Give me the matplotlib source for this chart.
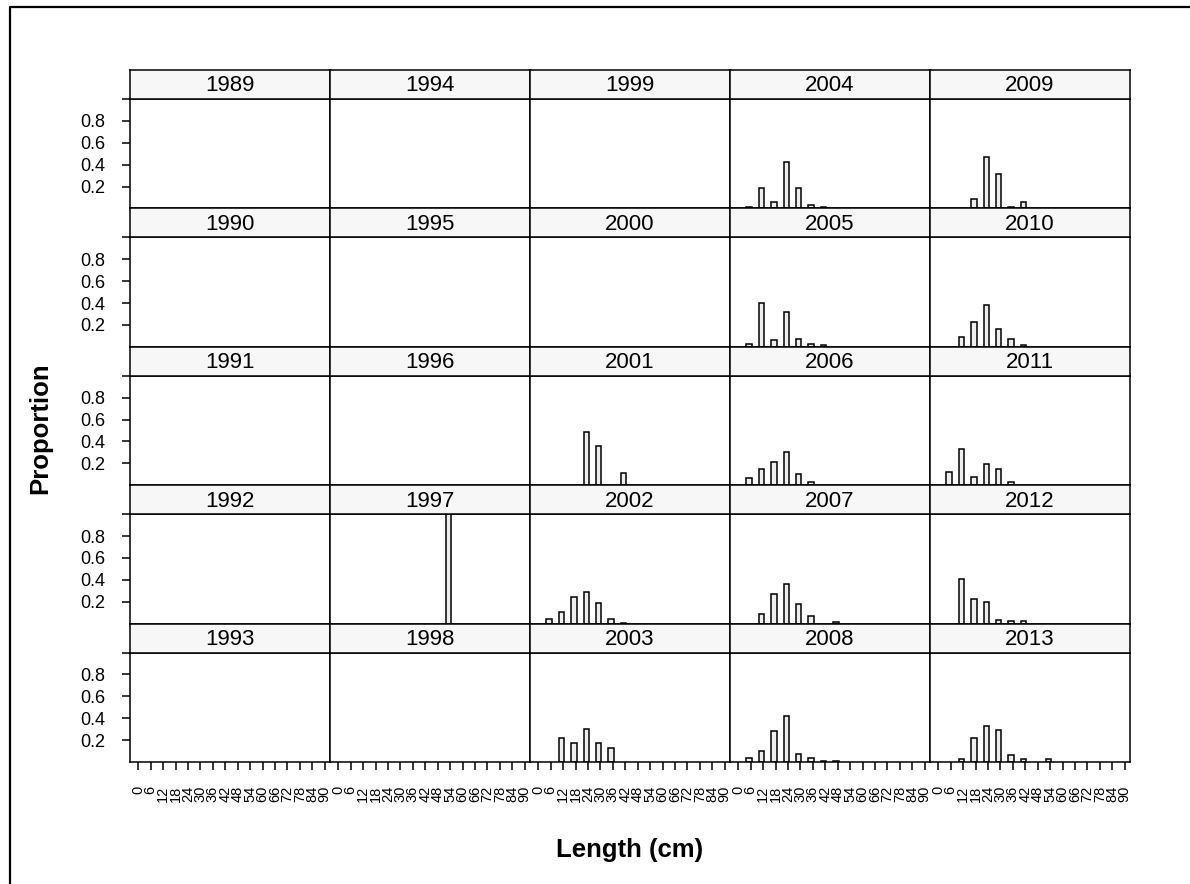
import matplotlib
matplotlib.use("Agg")
import matplotlib.pyplot as plt
from matplotlib.lines import Line2D

plt.rcParams['font.family'] = ['Liberation Sans', 'DejaVu Sans']

# Length-composition data (proportion by 6 cm length bin)
years = list(range(1989, 2014))

len_1997 = [54]
prop_1997 = [1.0]

len_2001 = [24, 30, 42]
prop_2001 = [0.49, 0.36, 0.11]

len_2002 = [6, 12, 18, 24, 30, 36, 42]
prop_2002 = [0.04, 0.11, 0.245, 0.29, 0.185, 0.04, 0.01]

len_2003 = [12, 18, 24, 30, 36]
prop_2003 = [0.215, 0.175, 0.305, 0.175, 0.13]

len_2004 = [6, 12, 18, 24, 30, 36, 42]
prop_2004 = [0.015, 0.19, 0.06, 0.425, 0.19, 0.03, 0.015]

len_2005 = [6, 12, 18, 24, 30, 36, 42]
prop_2005 = [0.03, 0.40, 0.06, 0.32, 0.07, 0.03, 0.015]

len_2006 = [6, 12, 18, 24, 30, 36]
prop_2006 = [0.07, 0.15, 0.21, 0.30, 0.10, 0.03]

len_2007 = [12, 18, 24, 30, 36, 48]
prop_2007 = [0.09, 0.275, 0.365, 0.18, 0.07, 0.015]

len_2008 = [6, 12, 18, 24, 30, 36, 42, 48]
prop_2008 = [0.04, 0.10, 0.28, 0.425, 0.075, 0.04, 0.012, 0.012]

len_2009 = [18, 24, 30, 36, 42]
prop_2009 = [0.09, 0.47, 0.31, 0.015, 0.06]

len_2010 = [12, 18, 24, 30, 36, 42]
prop_2010 = [0.09, 0.225, 0.38, 0.16, 0.075, 0.015]

len_2011 = [6, 12, 18, 24, 30, 36]
prop_2011 = [0.12, 0.335, 0.075, 0.19, 0.15, 0.03]

len_2012 = [12, 18, 24, 30, 36, 42]
prop_2012 = [0.405, 0.225, 0.195, 0.035, 0.02, 0.02]

len_2013 = [12, 18, 24, 30, 36, 42, 54]
prop_2013 = [0.03, 0.215, 0.325, 0.29, 0.06, 0.03, 0.03]

comps = {
    1997: (len_1997, prop_1997),
    2001: (len_2001, prop_2001),
    2002: (len_2002, prop_2002),
    2003: (len_2003, prop_2003),
    2004: (len_2004, prop_2004),
    2005: (len_2005, prop_2005),
    2006: (len_2006, prop_2006),
    2007: (len_2007, prop_2007),
    2008: (len_2008, prop_2008),
    2009: (len_2009, prop_2009),
    2010: (len_2010, prop_2010),
    2011: (len_2011, prop_2011),
    2012: (len_2012, prop_2012),
    2013: (len_2013, prop_2013),
}

x_ticks = list(range(0, 91, 6))
y_ticks = [0.2, 0.4, 0.6, 0.8, 1.0]
y_ticklabels = ['0.2', '0.4', '0.6', '0.8', '']

W, H = 1190, 884
fig = plt.figure(figsize=(W / 100, H / 100), dpi=100)

def fx(px):
    return px / W

def fy(py):
    return 1 - py / H

# outer frame (only left and top edges fall inside the image)
fig.lines.append(Line2D([fx(10), fx(10), 1.0], [0.0, fy(7), fy(7)],
                        transform=fig.transFigure, color='black',
                        linewidth=1.6))

left0, top0 = 130, 70
col_w, row_h, strip_h = 200, 138.4, 29
nrow, ncol = 5, 5

for c in range(ncol):
    for r in range(nrow):
        year = years[c * nrow + r]
        left = left0 + col_w * c
        strip_top = top0 + row_h * r
        bottom = strip_top + row_h
        ph = row_h - strip_h

        ax = fig.add_axes([fx(left), fy(bottom), col_w / W, ph / H])
        if year in comps:
            lens, props = comps[year]
            ax.bar([l - 0.8 for l in lens], props, width=2.6,
                   color='#eeeeee', edgecolor='black', linewidth=1.1)
        ax.set_xlim(-4, 92.6)
        ax.set_ylim(0, 1.0)
        for s in ax.spines.values():
            s.set_linewidth(1.1)

        if c == 0:
            ax.set_yticks(y_ticks)
            ax.set_yticklabels(y_ticklabels, fontsize=13)
            ax.tick_params(axis='y', length=6, width=1.1, pad=12)
        else:
            ax.set_yticks([])
        if r == nrow - 1:
            ax.set_xticks(x_ticks)
            ax.set_xticklabels([str(t) for t in x_ticks], rotation=90,
                               fontsize=10.5)
            ax.tick_params(axis='x', length=6, width=1.1, pad=11)
        else:
            ax.set_xticks([])

        sax = fig.add_axes([fx(left), fy(strip_top + strip_h), col_w / W,
                            strip_h / H])
        sax.set_facecolor('#f7f7f7')
        sax.set_xticks([])
        sax.set_yticks([])
        for s in sax.spines.values():
            s.set_linewidth(1.1)
        sax.text(0.5, 0.45, str(year), ha='center', va='center',
                 fontsize=16, transform=sax.transAxes)

fig.text(fx(40), fy(428), 'Proportion', rotation=90, ha='center',
         va='center', fontsize=18.5, fontweight='bold')
fig.text(fx(630), fy(850), 'Length (cm)', ha='center', va='center',
         fontsize=18.5, fontweight='bold')

fig.savefig('out.png', dpi=100)
